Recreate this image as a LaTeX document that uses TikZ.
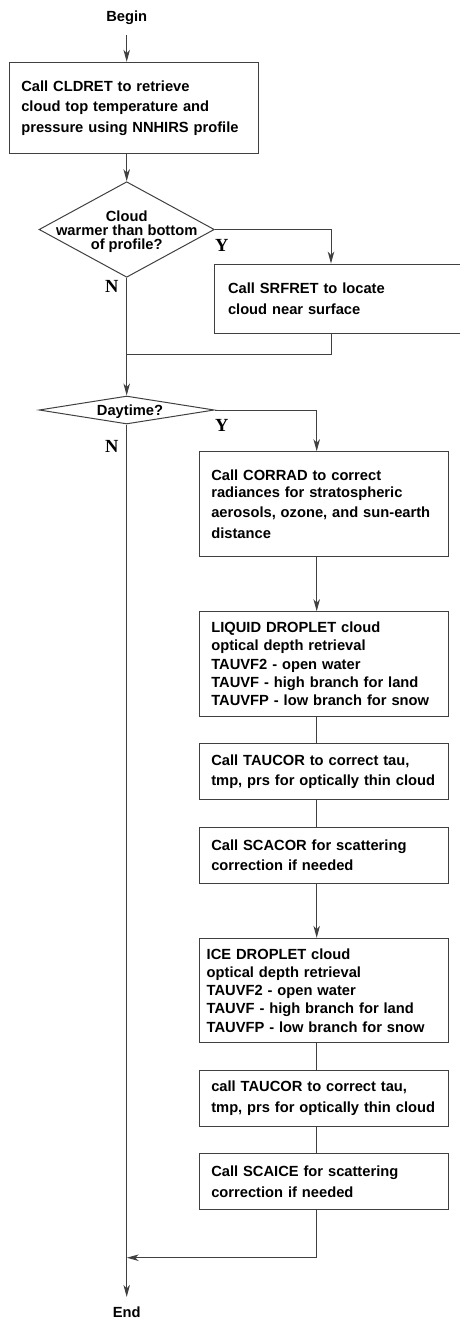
\documentclass[tikz,border=0pt]{standalone}
\usepackage{fontspec}
\setmainfont{Liberation Sans}
\newfontfamily\ynfont{Liberation Serif}
\usetikzlibrary{arrows.meta, shapes.geometric}

\begin{document}
\begin{tikzpicture}[x=1pt, y=-1pt, >={Stealth[length=12pt, width=6.5pt, inset=3.5pt]},
  flow/.style={draw=black!75, line width=1pt},
  procbox/.style={draw=black!75, line width=1pt, rectangle, align=left,
    inner xsep=12pt, inner ysep=0pt, font=\bfseries\fontsize{14.7}{20.5}\selectfont},
  tightbox/.style={procbox, font=\bfseries\fontsize{14.7}{18.2}\selectfont},
  decision/.style={draw=black!75, line width=1pt, diamond, inner sep=0pt},
  dtext/.style={align=center, inner sep=0pt, font=\bfseries\fontsize{14.7}{14}\selectfont},
  terminal/.style={font=\bfseries\fontsize{14.7}{17}\selectfont, inner xsep=2pt, inner ysep=10pt},
  yn/.style={font=\ynfont\bfseries\fontsize{18.5}{20}\selectfont, inner sep=0pt}]
  \useasboundingbox (0,0) rectangle (460,1320);

  % Cloud top retrieval
  \node[terminal] (begin) at (126.7,18) {Begin};
  \node[procbox, text width=225, minimum height=91] (cldret) at (133.8,107.8)
    {Call CLDRET to retrieve\\cloud top temperature and\\pressure using NNHIRS profile};
  \node[decision, minimum width=175.3, minimum height=95.6] (warm) at (126.7,229.5) {};
  \node[dtext] (warmtxt) at (126.7,231.7) {Cloud\\warmer than bottom\\of profile?};
  \node[yn] (ywarm) at (221.7,245.5) {Y};
  \node[yn] (nwarm) at (111.7,286.3) {N};
  \node[procbox, inner xsep=14pt, text width=228, minimum height=69.3] (srfret) at (342,298.7)
    {Call SRFRET to locate\\cloud near surface};
  \coordinate (srfjoin) at (331,354.3);

  % Daytime branch
  \node[decision, minimum width=175.3, minimum height=28] (day) at (126.7,410) {};
  \node[dtext] (daytxt) at (130,411.5) {Daytime?};
  \node[yn] (yday) at (221.7,425.5) {Y};
  \node[yn] (nday) at (111.7,446.3) {N};
  \coordinate (rcol) at (316.7,1257.7);

  \node[procbox, text width=224.7, minimum height=104.3] (corrad) at (323.65,503.85)
    {Call CORRAD to correct\\[-3.5pt]radiances for stratospheric\\aerosols, ozone, and sun-earth\\distance};
  \node[tightbox, text width=224.7, minimum height=104.3] (liquid) at (323.65,663.85)
    {LIQUID DROPLET cloud\\optical depth retrieval\\TAUVF2 - open water\\TAUVF - high branch for land\\TAUVFP - low branch for snow};
  \node[procbox, text width=224.7, minimum height=55.6] (taucor1) at (323.65,771.5)
    {Call TAUCOR to correct tau,\\tmp, prs for optically thin cloud};
  \node[procbox, text width=224.7, minimum height=56] (scacor) at (323.65,855.3)
    {Call SCACOR for scattering\\correction if needed};
  \node[tightbox, inner xsep=7.4pt, text width=233.9, minimum height=104.4] (ice) at (323.65,990.5)
    {ICE DROPLET cloud\\optical depth retrieval\\TAUVF2 - open water\\TAUVF - high branch for land\\TAUVFP - low branch for snow};
  \node[procbox, text width=224.7, minimum height=56] (taucor2) at (323.65,1098)
    {call TAUCOR to correct tau,\\tmp, prs for optically thin cloud};
  \node[procbox, text width=224.7, minimum height=55.6] (scaice) at (323.65,1181.5)
    {Call SCAICE for scattering\\correction if needed};
  \node[terminal] (finish) at (126.7,1312.5) {End};

  % Connectors
  \draw[flow,->] (begin) -- (begin |- cldret.north);
  \draw[flow,->] (cldret.south -| warm) -- (warm.north);
  \draw[flow,->] (warm.east) -| (srfret.north -| srfjoin);
  \draw[flow] (srfret.south -| srfjoin) -- (srfjoin) -- (srfjoin -| warm);
  \draw[flow,->] (warm.south) -- (day.north);
  \draw[flow,->] (day.east) -| (corrad.north -| rcol);
  \draw[flow,->] (corrad.south -| rcol) -- (liquid.north -| rcol);
  \draw[flow] (liquid.south -| rcol) -- (taucor1.north -| rcol);
  \draw[flow] (taucor1.south -| rcol) -- (scacor.north -| rcol);
  \draw[flow,->] (scacor.south -| rcol) -- (ice.north -| rcol);
  \draw[flow] (ice.south -| rcol) -- (taucor2.north -| rcol);
  \draw[flow] (taucor2.south -| rcol) -- (scaice.north -| rcol);
  \draw[flow,->] (scaice.south -| rcol) -- (rcol) -- (rcol -| day);
  \draw[flow,->] (day.south) -- (finish.north);
\end{tikzpicture}
\end{document}
